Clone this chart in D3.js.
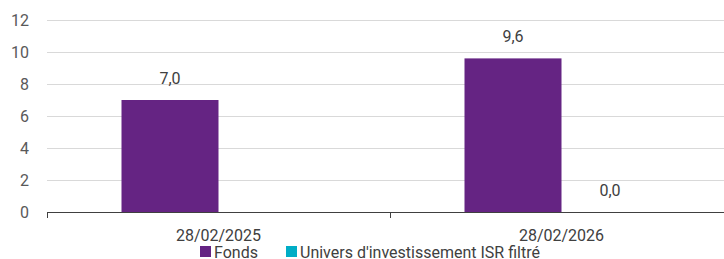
<!DOCTYPE html>
<html><head><meta charset="utf-8">
<script src="https://cdn.jsdelivr.net/npm/d3@7"></script>
<style>
html,body{margin:0;padding:0;background:#fff;}
svg{display:block;font-family:Roboto, "Liberation Sans", sans-serif;}
</style></head>
<body>
<svg id="chart" width="724" height="259"></svg>
<script>
const categories = ["28/02/2025", "28/02/2026"];
const seriesNames = ["Fonds", "Univers d'investissement ISR filtré"];
const fondsValues = [7.0, 9.6];
const universValues = [null, 0.0];
const yTicks = [0, 2, 4, 6, 8, 10, 12];
const colors = ["#652483", "#00adc6"];

(function () {
const svg = d3.select("#chart");
const plotLeft = 47, plotRight = 733, plotTop = 20, plotBottom = 212;
const x = d3.scaleBand().domain(categories).range([plotLeft, plotRight]).padding(0);
const y = d3.scaleLinear().domain([0, 12]).range([plotBottom, plotTop]);
const barW = 97;
const xs = d3.scaleBand().domain(seriesNames).range([0, barW * 2]);

// gridlines
svg.append("g").selectAll("line").data(yTicks.filter(d => d > 0)).join("line")
  .attr("x1", plotLeft).attr("x2", 724)
  .attr("y1", d => y(d) + 0.5).attr("y2", d => y(d) + 0.5)
  .attr("stroke", "#d9d9d9").attr("stroke-width", 1);

// y labels
svg.append("g").selectAll("text").data(yTicks).join("text")
  .attr("x", 29).attr("y", d => y(d)).attr("dy", "0.35em")
  .attr("text-anchor", "end").attr("font-size", 16).attr("fill", "#595959")
  .text(d => d);

const series = [fondsValues, universValues];
series.forEach((vals, si) => {
  const g = svg.append("g");
  const data = categories.map((c, i) => ({c, v: vals[i]})).filter(d => d.v !== null);
  const xpos = d => x(d.c) + (x.bandwidth() - barW * 2) / 2 + xs(seriesNames[si]);
  g.selectAll("rect").data(data).join("rect")
    .attr("x", xpos).attr("width", xs.bandwidth())
    .attr("y", d => y(d.v)).attr("height", d => y(0) - y(d.v))
    .attr("fill", colors[si]);
  g.selectAll("text").data(data).join("text")
    .attr("x", d => xpos(d) + xs.bandwidth() / 2)
    .attr("y", d => y(d.v) - 16)
    .attr("text-anchor", "middle").attr("font-size", 16).attr("fill", "#404040")
    .text(d => d3.format(".1f")(d.v).replace(".", ","));
});

// x axis
const xAxis = svg.append("g");
xAxis.append("line").attr("x1", plotLeft).attr("x2", 724).attr("y1", plotBottom + 0.5).attr("y2", plotBottom + 0.5)
  .attr("stroke", "#404040").attr("stroke-width", 1);
const bounds = [plotLeft, x(categories[1])];
xAxis.selectAll("line.tick").data(bounds).join("line").attr("class", "tick")
  .attr("x1", d => d + 0.5).attr("x2", d => d + 0.5).attr("y1", plotBottom).attr("y2", plotBottom + 6)
  .attr("stroke", "#404040");
xAxis.selectAll("text").data(categories).join("text")
  .attr("x", d => x(d) + x.bandwidth() / 2).attr("y", 241)
  .attr("text-anchor", "middle").attr("font-size", 16).attr("fill", "#404040")
  .text(d => d);

// legend
const legend = svg.append("g");
const legX = [200, 286];
seriesNames.forEach((n, i) => {
  legend.append("rect").attr("x", legX[i]).attr("y", 246).attr("width", 11).attr("height", 11).attr("fill", colors[i]);
  legend.append("text").attr("x", legX[i] + 14).attr("y", 258).attr("font-size", 16).attr("fill", "#404040").text(n);
});
})();
</script>
</body></html>
